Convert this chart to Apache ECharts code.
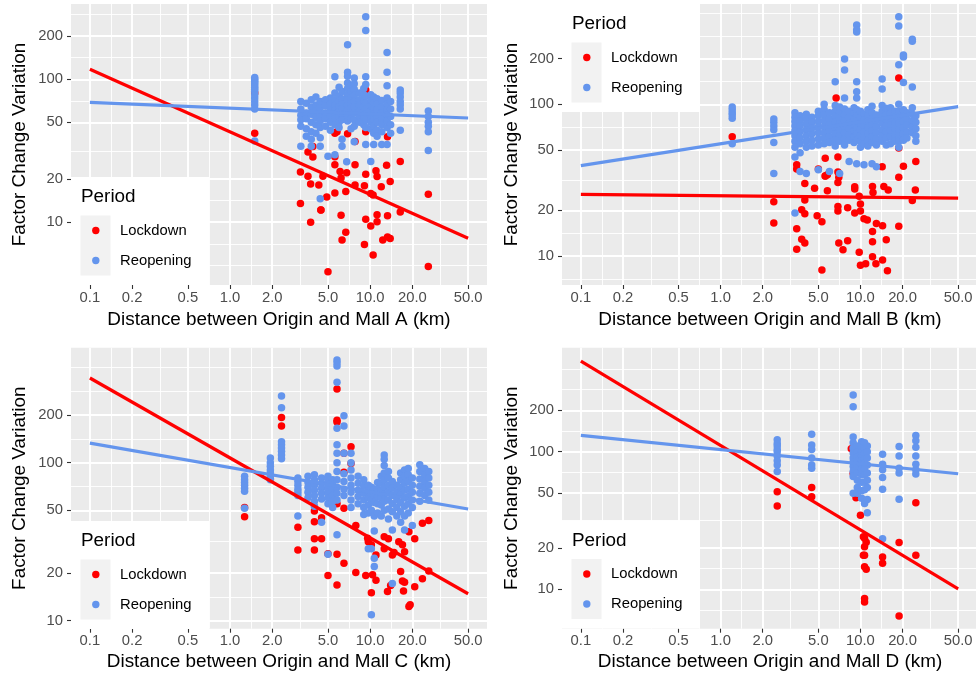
<!DOCTYPE html>
<html>
<head>
<meta charset="utf-8">
<script src="https://cdn.jsdelivr.net/npm/echarts@6/dist/echarts.min.js"></script>
<style>
  html, body { margin: 0; padding: 0; background: #ffffff; }
  #chart { width: 976px; height: 675px; }
</style>
</head>
<body>
<div id="chart"></div>
<script>
// ---- Axis breaks (shown on log10 scales) ----
const xTickValues = [0.1, 0.2, 0.5, 1, 2, 5, 10, 20, 50];
const xTickLabels = ['0.1', '0.2', '0.5', '1.0', '2.0', '5.0', '10.0', '20.0', '50.0'];
const yTickValues = [10, 20, 50, 100, 200];
const yTickLabels = ['10', '20', '50', '100', '200'];
const periods = ['Lockdown', 'Reopening'];
const xRange = [0.0733, 68.2];

// ---- Mall A: [distance km, [factor change values...]] ----
const mallA_lockdown = [
  [1.5, [80, 42]], [3.18, [22.5, 13.5]], [3.6, [31, 21]], [3.76, [18.5, 10]], [3.9, [28.6, 33.8]],
  [4.3, [18.2]], [4.45, [12.2, 12.2]], [4.6, [21]], [4.9, [15]], [5.0, [4.5]],
  [5.6, [42, 28.7, 25.2, 16]], [5.8, [43]], [6.1, [22.6]], [6.2, [20.4, 11.2]], [6.3, [7.5]],
  [6.7, [16.4, 8.5]], [6.8, [22.2]], [6.9, [41.5]], [7.8, [36.7, 25.2, 18.2]],
  [9.1, [18, 7.0]], [9.3, [84, 43, 21.7, 10.5]], [10.1, [15.9, 9.4]], [10.5, [15.5, 5.9]],
  [11.0, [22.9]], [11.2, [20.9, 11.3, 10.1]], [12.0, [17.7]], [12.3, [7.5]],
  [13.1, [25]], [13.3, [39.7, 11.1, 7.9]], [13.9, [19.3, 7.7]], [16.4, [26.6, 11.8]],
  [26.0, [15.7, 4.9]]
];
const mallA_reopening = [
  [1.5, [103, 100, 97, 94, 91, 88, 85, 82, 78, 74, 70, 66, 62, 37]],
  [3.2, [70, 62, 56, 52, 47, 34]], [3.5, [68, 58, 53, 45, 40]], [3.8, [72, 64, 57, 50, 43, 38, 34]],
  [4.1, [75, 66, 60, 54, 48, 42]], [4.4, [70, 63, 56, 51, 46, 39, 34, 14.6]],
  [4.8, [72, 65, 58, 53, 47]], [5.0, [29]], [5.2, [74, 67, 61, 55, 50, 44]],
  [5.6, [104, 80, 72, 66, 61, 57, 53, 48, 29.6]], [6.0, [88, 76, 70, 64, 59, 55, 50, 46]],
  [6.3, [82, 73, 67, 62, 57, 52, 38, 34]], [6.8, [26.5]],
  [6.9, [174, 112, 105, 94, 86, 78, 72, 66, 61, 56, 51]], [7.3, [90, 82, 74, 68, 63, 58, 53, 45]],
  [7.7, [102, 93, 85, 77, 70, 64, 58, 52, 47, 36.5]], [8.4, [80, 72, 66, 60, 55, 50]],
  [9.0, [86, 78, 70, 64, 59, 54, 48]], [9.3, [274, 219, 104, 92, 76, 68, 62, 57, 52, 46, 35]],
  [10.1, [78, 71, 65, 60, 55, 50, 45, 26.6]], [10.6, [75, 68, 62, 57, 52, 47, 42, 35]],
  [11.2, [73, 67, 61, 55, 50, 44, 40]], [12.1, [71, 64, 58, 53, 48, 43, 35]],
  [13.2, [154, 112, 90, 74, 67, 61, 56, 51, 46, 35]], [14.0, [70, 62, 55, 48, 42]],
  [16.4, [84, 80, 75, 70, 66, 62, 44]], [26.0, [60, 55, 50, 47, 43, 31.7]]
];
const mallA_lockdownFit = [[0.1, 117.5], [50, 7.73]];
const mallA_reopeningFit = [[0.1, 69], [50, 53.6]];
const mallA_yRange = [3.64, 336];

// ---- Mall B ----
const mallB_lockdown = [
  [1.21, [61]], [2.4, [22.8, 16.5]], [3.5, [40, 37.5, 15.1, 11.1]], [3.8, [20.2, 12.9]],
  [4.0, [30, 23.4, 19, 12.2]], [4.7, [28]], [4.9, [18.4]], [5.0, [37.5]], [5.3, [16.8, 8.1]],
  [5.6, [44, 33.7, 33.7]], [5.8, [34.3, 26.9]], [6.7, [110]], [6.9, [45, 35.8, 30.5, 21.2, 19.8]],
  [7.0, [33, 12.2]], [7.5, [11.0]], [8.1, [20.8, 12.6]], [9.1, [28.6, 27.6, 19.2]], [9.3, [71]],
  [9.8, [24.8, 10.6]], [10.0, [22, 19.8, 8.7]], [10.6, [17.6]], [10.9, [8.9]], [11.2, [17.3]],
  [12.2, [28.7, 14.5, 12.4, 9.9]], [12.3, [26.2]], [12.9, [8.9]], [13.0, [16.4]], [14.3, [38.8]],
  [14.4, [15.8, 9.4]], [14.7, [28.7]], [15.3, [12.8]], [15.6, [8.0]], [15.8, [27.2]],
  [18.8, [149, 51.5, 33, 15.7]], [20.3, [39]], [23.5, [23.2]], [23.7, [76]], [24.7, [27.2]], [24.9, [42]]
];
const mallB_reopening = [
  [1.21, [96, 92, 88, 85, 81, 55]], [2.4, [80, 76, 72, 68, 56, 35]],
  [3.4, [88, 82, 77, 72, 67, 62, 57, 52, 45, 19.2]], [3.7, [84, 78, 72, 66, 60, 55, 48, 36]],
  [4.1, [86, 80, 74, 68, 62, 57, 52, 35]], [4.5, [82, 76, 70, 64, 58, 53]],
  [5.0, [90, 84, 77, 71, 65, 59, 54, 37]], [5.5, [100, 92, 85, 78, 71, 65, 60, 55]],
  [6.0, [88, 80, 73, 67, 61, 56, 36]], [6.6, [141, 98, 90, 83, 76, 70, 64, 58, 53]],
  [7.1, [96, 88, 81, 74, 68, 62, 57, 35]], [7.7, [199, 168, 110, 93, 85, 78, 71, 65, 59, 54]],
  [8.3, [90, 82, 75, 69, 63, 58, 42]], [9.0, [95, 87, 80, 73, 67, 61, 56]],
  [9.4, [333, 310, 300, 141, 121, 110, 92, 84, 77, 70, 64, 58, 40.5]],
  [10.0, [90, 82, 75, 68, 62, 57, 52]], [10.6, [86, 79, 72, 66, 60, 55, 40]],
  [11.3, [92, 84, 77, 70, 64, 58, 53]], [12.1, [97, 88, 80, 73, 67, 61, 56, 40.5]],
  [13.0, [85, 78, 71, 65, 59, 54, 38.8]], [14.3, [147, 126, 98, 90, 82, 75, 68, 62, 57]],
  [15.3, [94, 86, 79, 72, 66, 60, 54]], [16.4, [95, 87, 80, 73, 67, 61, 55]],
  [17.6, [90, 82, 75, 69, 63, 57]], [18.8, [378, 328, 182, 100, 90, 82, 75, 68, 62, 57, 52]],
  [20.3, [211, 205, 139, 92, 84, 77, 70, 64, 58]], [21.5, [88, 80, 73, 66, 60]],
  [23.5, [268, 260, 130, 95, 86, 78, 71, 65]], [24.9, [84, 76, 69, 62, 57]]
];
const mallB_lockdownFit = [[0.1, 25.5], [50, 24.1]];
const mallB_reopeningFit = [[0.1, 39.4], [50, 96.4]];
const mallB_yRange = [6.44, 458];

// ---- Mall C ----
const mallC_lockdown = [
  [1.27, [52, 45.5]], [1.94, [79]], [2.33, [193, 171]], [3.05, [39, 28]],
  [4.0, [49.5, 42.3, 33, 28]], [4.5, [44.9, 33]], [5.0, [26.5, 19.3]],
  [5.8, [293, 186, 181, 55, 26.3, 16.8]], [6.5, [115, 87, 51.4, 23.1]], [7.3, [126, 99]],
  [7.9, [40, 20.2]], [9.3, [19.3]], [9.6, [33.3]], [9.7, [31.6]], [10.2, [30.2, 15.0]],
  [10.4, [19.5]], [11.0, [26, 18]], [12.6, [34, 28.5]], [13.3, [15.3]], [13.5, [33]],
  [14.0, [16.7]], [14.4, [26]], [14.8, [27]], [16.0, [31.6]], [16.5, [20.5]],
  [17.0, [30.2, 17.8]], [17.3, [15.4]], [17.6, [27.3, 17.5]], [18.9, [36.6, 12.3]],
  [19.3, [12.6]], [20.8, [33, 16.4]], [23.6, [41.4, 18.4]], [26.2, [43, 20.6]]
];
const mallC_reopening = [
  [1.27, [82, 78, 75, 72, 69, 66, 51.5]], [1.94, [107, 100, 95, 90, 86, 82, 78]],
  [2.33, [265, 223, 136, 130, 124, 118, 112, 106]], [3.05, [80, 76, 72, 68, 65, 62, 46]],
  [3.6, [82, 75, 70, 65, 60]], [4.0, [84, 78, 72, 67, 62, 57, 53]],
  [4.5, [80, 74, 69, 64, 59, 42]], [5.0, [82, 76, 70, 65, 60, 55, 26.3]],
  [5.4, [78, 72, 67, 62, 57, 52]], [5.8, [447, 430, 410, 323, 165, 130, 115, 100, 88, 78, 70, 64, 58, 35]],
  [6.5, [198, 171, 115, 85, 76, 68, 62]], [7.3, [115, 100, 90, 80, 72, 65, 58, 52]],
  [8.2, [82, 74, 67, 61, 55]], [9.0, [78, 71, 64, 58, 52, 47]], [9.7, [72, 66, 60, 54, 48, 28.5]],
  [10.2, [70, 64, 58, 50, 28.5, 10.9]], [10.7, [68, 62, 56, 46, 37, 24.8, 22]],
  [11.3, [75, 68, 61, 55, 48]], [12.0, [82, 74, 67, 60, 54, 46]],
  [12.6, [112, 105, 96, 86, 78, 70, 63, 57, 50]], [13.5, [88, 80, 72, 65, 58, 51, 44]],
  [14.4, [76, 69, 62, 55, 49, 37.5, 17.2]], [15.5, [72, 65, 58, 52, 46]],
  [16.5, [86, 78, 70, 63, 56, 49, 42]], [17.6, [90, 82, 74, 67, 60, 53, 46, 37.5]],
  [18.7, [92, 84, 76, 68, 61, 55, 48]], [20.0, [80, 72, 65, 58, 52, 40]],
  [22.6, [97, 88, 79, 71, 64, 57]], [24.5, [92, 84, 76, 69, 62]], [26.2, [88, 80, 72, 65, 58]]
];
const mallC_lockdownFit = [[0.1, 344], [50, 14.8]];
const mallC_reopeningFit = [[0.1, 133], [50, 50.9]];
const mallC_yRange = [8.89, 535];

// ---- Mall D ----
const mallD_lockdown = [
  [2.54, [51.2, 40.3]], [4.48, [55, 47]], [8.6, [105]], [8.87, [69.6]], [9.3, [46.3]],
  [10.0, [34.6]], [10.5, [24.1, 17.7]], [10.7, [23.5, 20.4, 17.7, 14.6, 8.6, 8.1]],
  [11.0, [22, 14.0]], [14.4, [17.2, 15.5]], [18.9, [21.9, 6.4]], [24.9, [42.6, 17.7]]
];
const mallD_reopening = [
  [2.54, [122, 115, 110, 104, 100, 93, 86, 80, 72]], [4.48, [134, 112, 104, 90, 80, 76]],
  [8.87, [258, 212, 128, 116, 106, 98, 90, 84, 78, 72, 66, 50]],
  [9.5, [110, 100, 92, 85, 78, 70, 62, 55, 50]], [10.2, [118, 108, 100, 93, 86, 80, 74, 68, 60, 52, 46]],
  [10.7, [116, 106, 97, 89, 82, 75, 68, 60, 53, 42]], [11.2, [110, 100, 90, 80, 70, 62, 55, 45, 36]],
  [14.4, [96, 81, 74, 65, 53.4, 23.3]], [18.9, [109, 93, 76, 70, 45.1]],
  [24.9, [131, 120, 108, 93, 81, 74, 69]]
];
const mallD_lockdownFit = [[0.1, 456], [50, 10.1]];
const mallD_reopeningFit = [[0.1, 131.6], [50, 69.2]];
const mallD_yRange = [5.18, 570];

// ---- Layout of the four panels ----
const FONT = '"Liberation Sans", Arial, Helvetica, sans-serif';
const RED = '#ff0000';
const BLUE = '#6495ed';
const TITLE_SIZE = 18.9;
const TEXT_SIZE = 14.8;

const panels = [
  { mall: 'A', lockdown: mallA_lockdown, reopening: mallA_reopening, lockdownFit: mallA_lockdownFit,
    reopeningFit: mallA_reopeningFit, yRange: mallA_yRange,
    grid: { left: 71, top: 4, width: 416, height: 281 }, xTitle: [279, 319.5], yTitle: [20, 144.5], legend: [71, 177] },
  { mall: 'B', lockdown: mallB_lockdown, reopening: mallB_reopening, lockdownFit: mallB_lockdownFit,
    reopeningFit: mallB_reopeningFit, yRange: mallB_yRange,
    grid: { left: 562, top: 4, width: 415, height: 281 }, xTitle: [770, 319.5], yTitle: [511.5, 144.5], legend: [562, 4] },
  { mall: 'C', lockdown: mallC_lockdown, reopening: mallC_reopening, lockdownFit: mallC_lockdownFit,
    reopeningFit: mallC_reopeningFit, yRange: mallC_yRange,
    grid: { left: 71, top: 347.7, width: 416, height: 281 }, xTitle: [279, 662], yTitle: [20, 488.2], legend: [71, 521] },
  { mall: 'D', lockdown: mallD_lockdown, reopening: mallD_reopening, lockdownFit: mallD_lockdownFit,
    reopeningFit: mallD_reopeningFit, yRange: mallD_yRange,
    grid: { left: 562, top: 347.7, width: 415, height: 281 }, xTitle: [770, 662], yTitle: [511.5, 488.2], legend: [562, 520.5] }
];

const lg = Math.log10;
const expandColumns = cols => cols.flatMap(([x, ys]) => ys.map(y => [lg(x), lg(y)]));
const toLogPairs = pts => pts.map(([x, y]) => [lg(x), lg(y)]);

// minor breaks: midpoints between breaks in transformed space (one break added beyond each end)
function minorBreaks(major, lo, hi) {
  const b = major.slice();
  const bd = b[1] - b[0];
  if (lo < b[0]) b.unshift(b[0] - bd);
  if (hi > b[b.length - 1]) b.push(b[b.length - 1] + bd);
  const out = [];
  for (let i = 0; i < b.length - 1; i++) out.push(b[i], (b[i] + b[i + 1]) / 2);
  out.push(b[b.length - 1]);
  return out.filter(v => v >= lo && v <= hi && !major.some(m => Math.abs(m - v) < 1e-9));
}

function labelFor(values, labels) {
  return v => {
    for (let i = 0; i < values.length; i++) if (Math.abs(lg(values[i]) - v) < 1e-6) return labels[i];
    return '';
  };
}

const xMajor = xTickValues.map(lg);
const yMajor = yTickValues.map(lg);
const xLo = lg(xRange[0]), xHi = lg(xRange[1]);

const grids = [], xAxes = [], yAxes = [], series = [], graphics = [];
const minorX = [], minorY = [];
const TOP_Z = 100;

function legendText(x, y, text, size) {
  return { type: 'text', x: x, y: y, z: TOP_Z + 2,
    style: { text: text, font: size + 'px ' + FONT, fill: '#000000',
      textAlign: 'left', align: 'left', textVerticalAlign: 'middle', verticalAlign: 'middle' } };
}

panels.forEach((p, i) => {
  grids.push(Object.assign({ show: true, backgroundColor: '#ebebeb', borderWidth: 0, containLabel: false, outerBoundsMode: 'none' }, p.grid));
  const yLo = lg(p.yRange[0]), yHi = lg(p.yRange[1]);

  xAxes.push({
    type: 'value', gridIndex: i, min: xLo, max: xHi, position: 'bottom', z: 1,
    axisLine: { show: false, onZero: false },
    axisTick: { show: true, length: 4, lineStyle: { color: '#333333', width: 1.1 }, customValues: xMajor },
    axisLabel: { show: true, customValues: xMajor, formatter: labelFor(xTickValues, xTickLabels),
      color: '#4d4d4d', fontSize: TEXT_SIZE, fontFamily: FONT, margin: 5, hideOverlap: false },
    splitLine: { show: true, lineStyle: { color: '#ffffff', width: 1.9 } }
  });
  yAxes.push({
    type: 'value', gridIndex: i, min: yLo, max: yHi, position: 'left', z: 1,
    axisLine: { show: false, onZero: false },
    axisTick: { show: true, length: 4, lineStyle: { color: '#333333', width: 1.1 }, customValues: yMajor },
    axisLabel: { show: true, customValues: yMajor, formatter: labelFor(yTickValues, yTickLabels),
      color: '#4d4d4d', fontSize: TEXT_SIZE, fontFamily: FONT, margin: 8, hideOverlap: false },
    splitLine: { show: true, lineStyle: { color: '#ffffff', width: 1.9 } }
  });
  minorX.push({
    type: 'value', gridIndex: i, min: xLo, max: xHi, position: 'top', z: 0,
    axisLine: { show: false, onZero: false }, axisLabel: { show: false },
    axisTick: { show: false, customValues: minorBreaks(xMajor, xLo, xHi) },
    splitLine: { show: true, lineStyle: { color: '#ffffff', width: 0.9 } }
  });
  minorY.push({
    type: 'value', gridIndex: i, min: yLo, max: yHi, position: 'right', z: 0,
    axisLine: { show: false, onZero: false }, axisLabel: { show: false },
    axisTick: { show: false, customValues: minorBreaks(yMajor, yLo, yHi) },
    splitLine: { show: true, lineStyle: { color: '#ffffff', width: 0.9 } }
  });

  series.push(
    { type: 'scatter', name: periods[0], xAxisIndex: i, yAxisIndex: i, data: expandColumns(p.lockdown),
      symbol: 'circle', symbolSize: 7.5, itemStyle: { color: RED, opacity: 1 }, z: 2, silent: true },
    { type: 'scatter', name: periods[1], xAxisIndex: i, yAxisIndex: i, data: expandColumns(p.reopening),
      symbol: 'circle', symbolSize: 7.5, itemStyle: { color: BLUE, opacity: 1 }, z: 3, silent: true },
    { type: 'line', xAxisIndex: i, yAxisIndex: i, data: toLogPairs(p.lockdownFit), showSymbol: false,
      lineStyle: { color: RED, width: 3.2 }, z: 4, silent: true },
    { type: 'line', xAxisIndex: i, yAxisIndex: i, data: toLogPairs(p.reopeningFit), showSymbol: false,
      lineStyle: { color: BLUE, width: 3.2 }, z: 5, silent: true }
  );

  // axis titles
  graphics.push({
    type: 'text', x: p.xTitle[0], y: p.xTitle[1], z: TOP_Z,
    style: { text: 'Distance between Origin and Mall ' + p.mall + ' (km)', font: TITLE_SIZE + 'px ' + FONT, fill: '#000000',
      textAlign: 'center', align: 'center', textVerticalAlign: 'middle', verticalAlign: 'middle' }
  });
  graphics.push({
    type: 'text', x: p.yTitle[0], y: p.yTitle[1], rotation: Math.PI / 2, z: TOP_Z,
    style: { text: 'Factor Change Variation', font: TITLE_SIZE + 'px ' + FONT, fill: '#000000',
      textAlign: 'center', align: 'center', textVerticalAlign: 'middle', verticalAlign: 'middle' }
  });

  // legend box drawn over the panel
  const lx = p.legend[0], ly = p.legend[1];
  graphics.push(
    { type: 'rect', z: TOP_Z, shape: { x: lx, y: ly, width: 138, height: 108 }, style: { fill: '#ffffff' } },
    { type: 'rect', z: TOP_Z + 1, shape: { x: lx + 9.5, y: ly + 38.5, width: 30, height: 60 }, style: { fill: '#f2f2f2' } },
    { type: 'circle', z: TOP_Z + 2, shape: { cx: lx + 24.8, cy: ly + 53.5, r: 3.7 }, style: { fill: RED } },
    { type: 'circle', z: TOP_Z + 2, shape: { cx: lx + 24.8, cy: ly + 83.5, r: 3.7 }, style: { fill: BLUE } },
    legendText(lx + 10, ly + 20, 'Period', TITLE_SIZE),
    legendText(lx + 49, ly + 53.5, periods[0], TEXT_SIZE),
    legendText(lx + 49, ly + 83.5, periods[1], TEXT_SIZE)
  );
});

const chart = echarts.init(document.getElementById('chart'), null, { renderer: 'canvas' });
chart.setOption({
  animation: false,
  backgroundColor: '#ffffff',
  textStyle: { fontFamily: FONT },
  grid: grids,
  xAxis: xAxes.concat(minorX),
  yAxis: yAxes.concat(minorY),
  series: series,
  graphic: { elements: graphics }
});
</script>
</body>
</html>
